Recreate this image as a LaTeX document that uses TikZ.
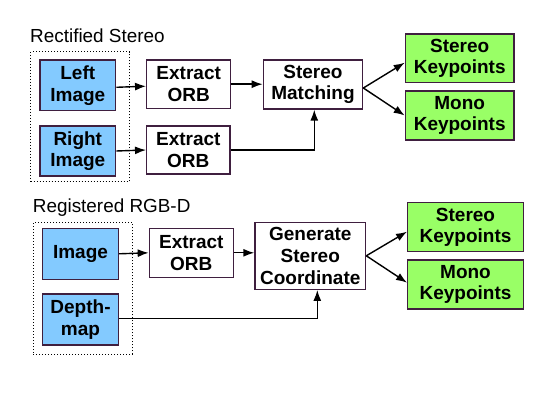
\documentclass[tikz,border=0pt]{standalone}
\usepackage{fontspec}
\setmainfont{Liberation Sans}
\usetikzlibrary{arrows.meta}
\definecolor{bluefill}{HTML}{83CAFF}
\definecolor{greenfill}{HTML}{99FF66}
\definecolor{edgecol}{HTML}{3F1F3F}
\tikzset{
  box/.style={draw=edgecol, line width=1.3pt, inner sep=0pt, align=center,
    font=\fontsize{19}{21.7}\selectfont\bfseries},
  inbox/.style={box, fill=bluefill},
  procbox/.style={box, fill=white},
  outbox/.style={box, fill=greenfill},
  group/.style={draw=black, dotted, line width=1pt},
  heading/.style={font=\fontsize{18.9}{21}\selectfont, anchor=west, inner sep=0pt},
  arr/.style={line width=1.4pt, -{Latex[length=11pt,width=8pt]}}
}
\begin{document}
\begin{tikzpicture}[x=1pt,y=-1pt]
\useasboundingbox (0,0) rectangle (557,403);
% Rectified stereo
\node[heading] (h1) at (30,35.5) {Rectified Stereo};
\node[inbox, minimum width=75.7pt, minimum height=50.7pt] (li) at (77.8,85.3) {Left\\Image};
\node[inbox, minimum width=75.7pt, minimum height=50pt] (ri) at (77.8,151) {Right\\Image};
\node[group, minimum width=98.3pt, minimum height=130.3pt] (g1) at (79.85,116.85) {};
\node[procbox, minimum width=84pt, minimum height=48.3pt] (o1) at (188.7,84.2) {Extract\\ORB};
\node[procbox, minimum width=83.3pt, minimum height=48pt] (o2) at (188.3,150) {Extract\\ORB};
\node[procbox, minimum width=99.4pt, minimum height=49pt] (sm) at (313,84.5) {Stereo\\Matching};
\node[outbox, minimum width=108.7pt, minimum height=48.7pt] (sk1) at (459.7,58.3) {Stereo\\Keypoints};
\node[outbox, minimum width=108.7pt, minimum height=49pt] (mk1) at (459.7,115.5) {Mono\\Keypoints};
\draw[arr] ([yshift=-2pt]li.east) -- ([yshift=-2pt]o1.west);
\draw[arr] (ri.east) -- (o2.west);
\draw[arr] (o1.east) -- (o1.east -| sm.west);
\draw[arr] (o2.east) -| ([xshift=1.3pt]sm.south);
\draw[arr] ([yshift=-3.5pt]sm.east) -- ([yshift=-4.4pt]sk1.west);
\draw[arr] ([yshift=-3.5pt]sm.east) -- (mk1.west);
% Registered RGB-D
\node[heading] (h2) at (32.7,207.5) {Registered RGB-D};
\node[inbox, minimum width=75.6pt, minimum height=51pt] (im) at (80.5,253.8) {Image};
\node[inbox, minimum width=75.6pt, minimum height=51pt] (dm) at (80.5,319.5) {Depth-\\map};
\node[group, minimum width=99pt, minimum height=131.6pt] (g2) at (82.8,288.5) {};
\node[procbox, minimum width=84pt, minimum height=49pt] (o3) at (191.3,252.8) {Extract\\ORB};
\node[procbox, minimum width=110.7pt, minimum height=67pt] (gen) at (310.3,255.8) {Generate\\Stereo\\Coordinate};
\node[outbox, minimum width=115.6pt, minimum height=49pt] (sk2) at (465.5,227.2) {Stereo\\Keypoints};
\node[outbox, minimum width=115.6pt, minimum height=49pt] (mk2) at (465.5,284.5) {Mono\\Keypoints};
\draw[arr] (im.east) -- (o3.west);
\draw[arr] (o3.east) -- (o3.east -| gen.west);
\draw[arr] ([yshift=1pt]dm.east) -| ([xshift=7pt]gen.south);
\draw[arr] (gen.east) -- ([yshift=-4.5pt]sk2.west);
\draw[arr] (gen.east) -- ([yshift=1.8pt]mk2.west);
\end{tikzpicture}
\end{document}
